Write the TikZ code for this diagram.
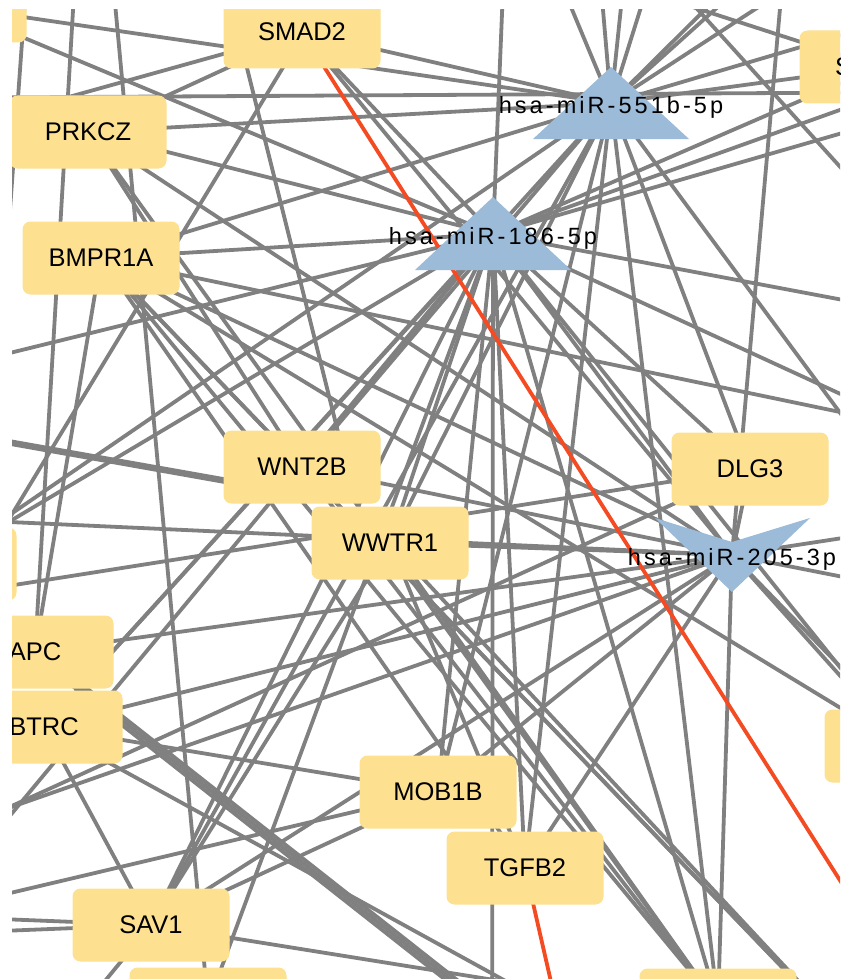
\documentclass[tikz,border=0pt]{standalone}
\usepackage{fontspec}
\setmainfont{Liberation Sans}
\newfontfamily\mirfont[LetterSpace=13]{Liberation Sans}
\usetikzlibrary{calc,backgrounds}
\definecolor{genefill}{RGB}{253,225,145}
\definecolor{mirfill}{RGB}{155,187,217}
\definecolor{edgegray}{RGB}{128,128,128}
\definecolor{edgered}{RGB}{245,75,35}
\tikzset{
  gene/.style={rectangle, rounded corners=8pt, fill=genefill, minimum width=157pt, minimum height=73pt, inner sep=0pt, font=\fontsize{25.5}{28}\selectfont},
  mirlabel/.style={inner sep=0pt, font=\mirfont\fontsize{23.5}{26}\selectfont},
  mirtri/.style={fill=mirfill},
  edge/.style={draw=edgegray, line width=3.8pt},
  thickedge/.style={draw=edgegray, line width=6.5pt},
  redge/.style={draw=edgered, line width=3.8pt},
}
\begin{document}
\begin{tikzpicture}[x=1pt,y=-1pt]
\useasboundingbox (0,0) rectangle (840,979);
\begin{scope}
\clip (12,10) rectangle (840,979);
% gene nodes
\node[gene] (N0) at (-52,6) {};
\node[gene] (SMAD2) at (302,32) {SMAD2};
\node[gene] (PRKCZ) at (88,132) {PRKCZ};
\node[gene] (BMPR1A) at (101,258) {BMPR1A};
\node[gene] (SMAD3) at (878,67) {\makebox[86pt][l]{S}};
\node[gene] (WNT2B) at (302,467) {WNT2B};
\node[gene] (WWTR1) at (390,543) {WWTR1};
\node[gene] (DLG3) at (750,469) {DLG3};
\node[gene] (Lp) at (-62,564) {};
\node[gene] (APC) at (35,652) {APC};
\node[gene] (BTRC) at (44,727) {BTRC};
\node[gene] (MOB1B) at (438,792) {MOB1B};
\node[gene] (TGFB2) at (525,868) {TGFB2};
\node[gene] (SAV1) at (151,925) {SAV1};
\node[gene] (B1) at (208,1004) {};
\node[gene] (B2) at (718,1005) {};
\node[gene] (R1) at (903,746) {};
% miRNA nodes
\coordinate (c551) at (611,103);
\coordinate (c186) at (493,234);
\coordinate (c205) at (732,555);
\fill[mirtri] ($(c551)+(0,-36)$) -- ($(c551)+(78,36)$) -- ($(c551)+(-78,36)$) -- cycle;
\fill[mirtri] ($(c186)+(0,-37)$) -- ($(c186)+(78,36)$) -- ($(c186)+(-78,36)$) -- cycle;
\fill[mirtri] ($(c205)+(-77,-37)$) -- ($(c205)+(0,-13)$) -- ($(c205)+(78,-37)$) -- ($(c205)+(0,37)$) -- cycle;
\node[mirlabel] (m551) at ($(c551)+(0,4)$) {hsa-miR-551b-5p};
\node[mirlabel] (m186) at ($(c186)+(0,4)$) {hsa-miR-186-5p};
\node[mirlabel] (m205) at ($(c205)+(0,4)$) {hsa-miR-205-3p};
\end{scope}
\begin{pgfonlayer}{background}
\fill[white] (0,0) rectangle (840,979);
\begin{scope}
\clip (12,10) rectangle (840,979);
% off-screen end points
\coordinate (o1) at (543,-60);
\coordinate (o2) at (597,-60);
\coordinate (o3) at (628,-60);
\coordinate (o4) at (662,-60);
\coordinate (o5) at (755,-40);
\coordinate (o6) at (770,-40);
\coordinate (o7) at (800,-20);
\coordinate (o8) at (960,0);
\coordinate (o9) at (960,575);
\coordinate (o10) at (505,-60);
\coordinate (o11) at (960,67);
\coordinate (o12) at (960,99);
\coordinate (o13) at (960,322);
\coordinate (o14) at (960,449);
\coordinate (o15) at (492,1100);
\coordinate (o16) at (-100,380);
\coordinate (o17) at (-60,900);
\coordinate (o18) at (786,-60);
\coordinate (o19) at (-100,517);
\coordinate (o20) at (-100,846);
\coordinate (o21) at (960,520);
\coordinate (o22) at (960,600);
\coordinate (o23) at (960,790);
\coordinate (o24) at (76,-40);
\coordinate (o25) at (111,-40);
\coordinate (o26) at (440,-30);
\coordinate (o27) at (-100,98);
\coordinate (o28) at (960,92);
\coordinate (o29) at (-100,423);
\coordinate (o30) at (300,494);
\coordinate (o31) at (600,1097);
\coordinate (o32) at (700,1088);
\coordinate (o33) at (-100,919);
\coordinate (o34) at (-100,857);
\coordinate (o35) at (-100,603);
\coordinate (o36) at (-100,915);
\coordinate (o37) at (-100,935);
\coordinate (o38) at (40,1060);
\coordinate (o39) at (900,1045);
\coordinate (o40) at (900,1090);
\coordinate (o41) at (960,437);
\coordinate (o42) at (330,-10);
\coordinate (o43) at (-40,600);
\coordinate (o44) at (680,-10);
\coordinate (o45) at (900,233);
\coordinate (o46) at (-100,144);
\coordinate (o47) at (225,-20);
\coordinate (o48) at (345,460);
\coordinate (o49) at (25,0);
\coordinate (o50) at (-5,420);
\coordinate (o51) at (900,975);
\coordinate (o52) at (562,1030);
\coordinate (o53) at (640,-10);
% hub edges
\foreach \t in {o1,o2,o3,o4,o5,o6,o7,SMAD3,o8,o9,DLG3,B2,TGFB2,SMAD2,N0,PRKCZ,BMPR1A,Lp,WNT2B,WWTR1,MOB1B,SAV1,BTRC}
  \draw[edge] (c551) -- (\t.center);
\foreach \t in {o10,SMAD2,N0,PRKCZ,BMPR1A,o11,o12,o13,o14,c205,R1,DLG3,B2,o15,TGFB2,MOB1B,WWTR1,WNT2B,B1,SAV1,BTRC,Lp,o16,o17,SMAD3}
  \draw[edge] (c186) -- (\t.center);
\foreach \t in {o18,DLG3,WWTR1,o19,WNT2B,BMPR1A,APC,BTRC,o20,o21,o22,R1,B2,o23,MOB1B,TGFB2,SAV1,PRKCZ,SMAD2}
  \draw[edge] (c205) -- (\t.center);
% other edges
\draw[edge] (APC.center) -- (o24);
\draw[edge] (B1.center) -- (o25);
\draw[edge] (PRKCZ.center) -- (o26);
\draw[edge] (o27) -- (o28);
\draw[thickedge] (o29) -- (o30);
\draw[edge] ([yshift=-4.5pt]APC.center) -- ([yshift=-4.5pt]o31);
\draw[edge] (APC.center) -- (o31);
\draw[edge] ([yshift=4.5pt]APC.center) -- ([yshift=4.5pt]o31);
\draw[edge] (BTRC.center) -- (o32);
\draw[edge] (BTRC.center) -- (MOB1B.center);
\draw[edge] (MOB1B.center) -- (o33);
\draw[edge] (MOB1B.center) -- (SAV1.center);
\draw[edge] (BTRC.center) -- (SAV1.center);
\draw[edge] (DLG3.center) -- (o34);
\draw[edge] (o35) -- (DLG3.center);
\draw[edge] (SAV1.center) -- (o36);
\draw[edge] (SAV1.center) -- (o37);
\draw[edge] (SAV1.center) -- (o38);
\draw[edge] (SAV1.center) -- (o39);
\draw[edge] (WNT2B.center) -- (o40);
\draw[edge] (BMPR1A.center) -- (o40);
\draw[edge] (WWTR1.center) -- (o40);
\draw[edge] (WWTR1.center) -- (B2.center);
\draw[edge] (BMPR1A.center) -- (B2.center);
\draw[edge] (PRKCZ.center) -- (B2.center);
\draw[edge] (WNT2B.center) -- (B2.center);
\draw[edge] (BMPR1A.center) -- (APC.center);
\draw[edge] (BMPR1A.center) -- (o41);
\draw[edge] (BMPR1A.center) -- (R1.center);
\draw[edge] (BMPR1A.center) -- (WNT2B.center);
\draw[edge] (PRKCZ.center) -- (WNT2B.center);
\draw[edge] (o42) -- (o43);
\draw[edge] (o44) -- (o45);
\draw[edge] (SMAD2.center) -- (o46);
\draw[edge] (o47) -- (o48);
\draw[edge] (WWTR1.center) -- (TGFB2.center);
\draw[edge] (WWTR1.center) -- (SAV1.center);
\draw[edge] (BMPR1A.center) -- (TGFB2.center);
\draw[edge] (o49) -- (o50);
\draw[edge] (SMAD3.center) -- (o53);
% highlighted edges
\draw[redge] (SMAD2.center) -- (o51);
\draw[redge] (TGFB2.center) -- (o52);
\end{scope}
\end{pgfonlayer}
\end{tikzpicture}
\end{document}
